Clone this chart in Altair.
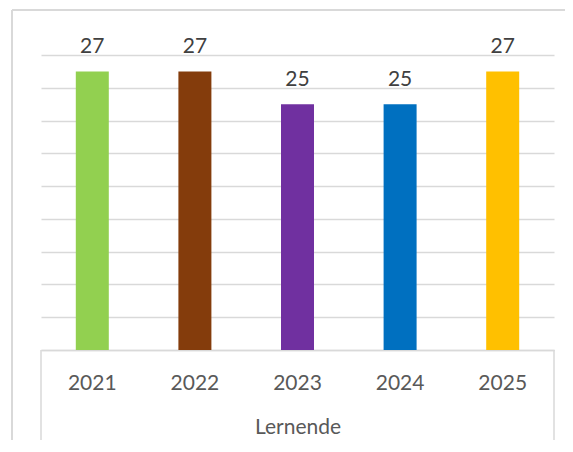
import altair as alt
import pandas as pd

years = ["2021", "2022", "2023", "2024", "2025"]
values = [27, 27, 25, 25, 27]
colors = ["#92D050", "#843C0C", "#7030A0", "#0070C0", "#FFC000"]
y_ticks = [10, 12, 14, 16, 18, 20, 22, 24, 26, 28]
group_label = "Lernende"

df = pd.DataFrame({"year": years, "value": values, "color": colors})

FONT = "Lato"
W, H = 513, 295

xscale = alt.Scale(domain=years, paddingInner=0.0, paddingOuter=0.0)
yscale = alt.Scale(domain=[10, 28], nice=False, zero=False, clamp=True)

xaxis = alt.Axis(title=group_label, labelAngle=0, ticks=False,
                 domainColor="#D9D9D9", domainWidth=1.5,
                 labelFont=FONT, labelFontSize=21, labelColor="#595959",
                 labelPadding=22, titleFont=FONT, titleFontSize=21,
                 titleFontWeight="normal", titleColor="#595959",
                 titlePadding=23)
yaxis = alt.Axis(values=y_ticks, title=None, labels=False, ticks=False,
                 domain=False, grid=True, gridColor="#D9D9D9", gridWidth=1.5)

base = alt.Chart(df)

bars = base.mark_bar(size=33).encode(
    x=alt.X("year:N", scale=xscale, sort=years, axis=xaxis),
    y=alt.Y("value:Q", scale=yscale, axis=yaxis),
    y2=alt.Y2(datum=10),
    color=alt.Color("color:N", scale=None),
)

labels = base.mark_text(baseline="bottom", dy=-14, font=FONT, fontSize=21,
                        color="#404040").encode(
    x=alt.X("year:N", scale=xscale, sort=years, axis=xaxis),
    y=alt.Y("value:Q", scale=yscale, axis=yaxis),
    text=alt.Text("value:Q"),
)

one = pd.DataFrame({"k": [0]})
left_edge = alt.Chart(one).mark_rule(color="#D9D9D9", strokeWidth=1.5).encode(
    x=alt.value(0), y=alt.value(H), y2=alt.value(H + 92))
right_edge = alt.Chart(one).mark_rule(color="#D9D9D9", strokeWidth=1.5).encode(
    x=alt.value(W), y=alt.value(H), y2=alt.value(H + 92))

border_left = alt.Chart(one).mark_rule(color="#D9D9D9", strokeWidth=2).encode(
    x=alt.value(-29), y=alt.value(-45), y2=alt.value(H + 200))
border_top = alt.Chart(one).mark_rule(color="#D9D9D9", strokeWidth=2).encode(
    x=alt.value(-29), x2=alt.value(W + 100), y=alt.value(-45))

chart = alt.layer(border_left, border_top, bars, labels, left_edge, right_edge).properties(
    width=W, height=H,
    background="white",
    autosize=alt.AutoSizeParams(type="none"),
    padding={"left": 33, "top": 47, "right": 11, "bottom": 90},
).configure_view(stroke="transparent", strokeWidth=0)

chart.save("out.html", embed_options={"renderer": "svg", "actions": False})
